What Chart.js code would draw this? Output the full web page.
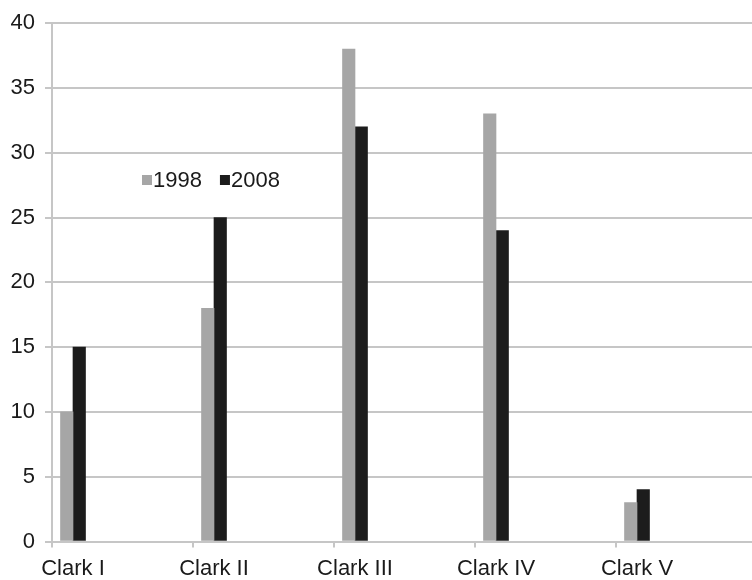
<!DOCTYPE html>
<html>
<head>
<meta charset="utf-8">
<script src="https://cdn.jsdelivr.net/npm/chart.js@4"></script>
<style>
  html, body { margin: 0; padding: 0; background: #ffffff; }
  #wrap { width: 752px; height: 580px; position: relative; }
</style>
</head>
<body>
<div id="wrap"><canvas id="c" width="752" height="580"></canvas></div>
<script>
const categories = ['Clark I', 'Clark II', 'Clark III', 'Clark IV', 'Clark V'];
const seriesNames = ['1998', '2008'];
const values1998 = [10, 18, 38, 33, 3];
const values2008 = [15, 25, 32, 24, 4];
const yTicks = [0, 5, 10, 15, 20, 25, 30, 35, 40];

// layout constants (styles, not data)
const GROUP_SHIFT = 21 / 141;   // bar group sits near left of its band
const X_MAX = 700 / 141;        // plot area runs to the right edge
const FONT = "'Liberation Sans', Arial, sans-serif";
const TEXT = '#1a1a1a';
const GRID = '#c6c6c6';

const toPoints = vals => vals.map((v, i) => ({ x: i + GROUP_SHIFT, y: v }));

const legendPlugin = {
  id: 'inlineLegend',
  afterDraw(chart) {
    const ctx = chart.ctx;
    ctx.save();
    ctx.font = '22px ' + FONT;
    ctx.textBaseline = 'alphabetic';
    ctx.textAlign = 'left';
    let x = 142;
    const base = 187;
    chart.data.datasets.forEach(ds => {
      ctx.fillStyle = ds.backgroundColor;
      ctx.fillRect(x, 175, 10, 10);
      x += 11;
      ctx.fillStyle = TEXT;
      ctx.fillText(ds.label, x, base);
      x += ctx.measureText(ds.label).width + 18;
    });
    ctx.restore();
  }
};

new Chart(document.getElementById('c'), {
  type: 'bar',
  data: {
    datasets: [
      { label: seriesNames[0], data: toPoints(values1998), backgroundColor: '#a6a6a6', barThickness: 12.5 },
      { label: seriesNames[1], data: toPoints(values2008), backgroundColor: '#1c1c1c', barThickness: 12.5 }
    ]
  },
  options: {
    responsive: false,
    animation: false,
    devicePixelRatio: 1,
    layout: { padding: { top: 21, right: 0, left: 0, bottom: 0 } },
    plugins: { legend: { display: false }, tooltip: { enabled: false } },
    scales: {
      x: {
        type: 'linear',
        offset: false,
        min: 0,
        max: X_MAX,
        afterBuildTicks: s => { s.ticks = categories.map((c, i) => ({ value: i })); },
        afterFit: s => { s.height = 38.5; },
        grid: { display: true, offset: false, drawOnChartArea: false, drawTicks: true, tickLength: 6, color: GRID, lineWidth: 2 },
        border: { display: true, color: GRID, width: 2 },
        ticks: {
          autoSkip: false,
          maxRotation: 0,
          padding: 8,
          labelOffset: 21,
          color: TEXT,
          font: { family: FONT, size: 22 },
          callback: (v) => categories[Math.round(v)] ?? ''
        }
      },
      y: {
        min: 0,
        max: 40,
        afterBuildTicks: s => { s.ticks = yTicks.map(v => ({ value: v })); },
        afterFit: s => { s.width = 52; },
        grid: { color: GRID, lineWidth: 2, tickLength: 7, drawTicks: true },
        border: { display: true, color: GRID, width: 2 },
        ticks: {
          padding: 10,
          color: TEXT,
          font: { family: FONT, size: 22 }
        }
      }
    }
  },
  plugins: [legendPlugin]
});
</script>
</body>
</html>
